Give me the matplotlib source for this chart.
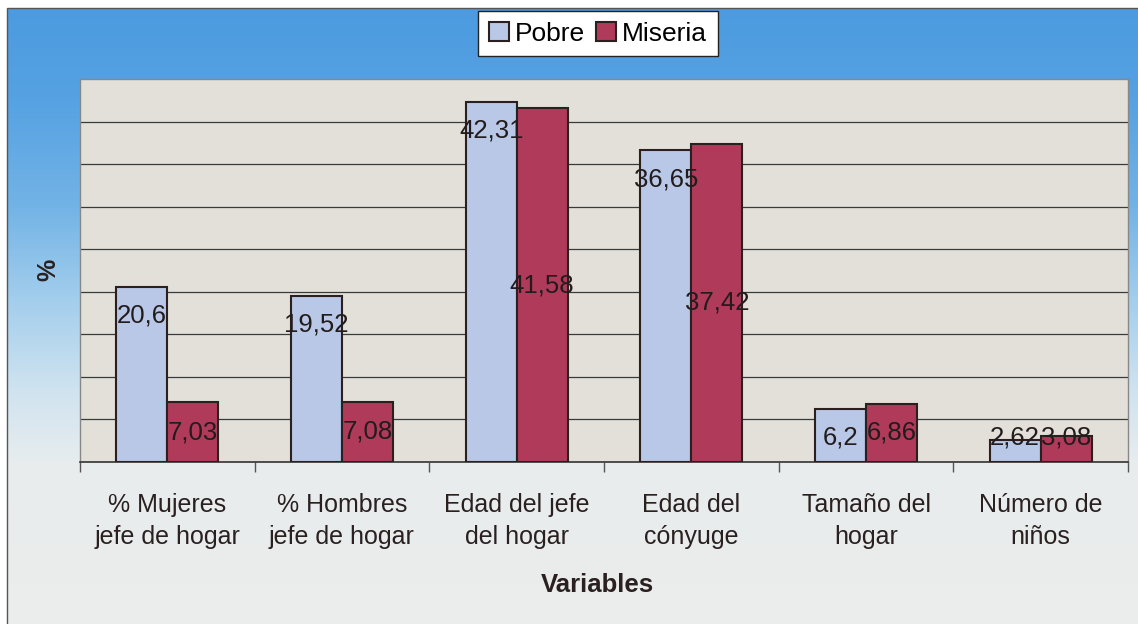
import matplotlib.pyplot as plt
import numpy as np
from matplotlib.colors import LinearSegmentedColormap
from matplotlib.patches import Patch, Rectangle

# Data
categories = [
    "% Mujeres\njefe de hogar",
    "% Hombres\njefe de hogar",
    "Edad del jefe\ndel hogar",
    "Edad del\ncónyuge",
    "Tamaño del\nhogar",
    "Número de\nniños",
]
pobre = [20.6, 19.52, 42.31, 36.65, 6.2, 2.62]
miseria = [7.03, 7.08, 41.58, 37.42, 6.86, 3.08]
series_names = ["Pobre", "Miseria"]

plt.rcParams["font.family"] = ["Liberation Sans", "DejaVu Sans"]

W, H = 1138, 624
fig = plt.figure(figsize=(W / 100, H / 100), dpi=100)
fig.patch.set_facecolor("white")

# Blue-to-white background gradient of the chart area
bg = fig.add_axes([7 / W, 0, 1 - 7 / W, 1 - 8 / H], zorder=-5)
grad_cmap = LinearSegmentedColormap.from_list(
    "bg",
    [
        (0.0, "#4c9be0"),
        (0.14, "#55a1e2"),
        (0.32, "#72b3e6"),
        (0.47, "#a2cdec"),
        (0.62, "#cfe3f0"),
        (0.74, "#e8edee"),
        (1.0, "#ececec"),
    ],
)
bg.imshow(np.linspace(0, 1, 256).reshape(-1, 1), cmap=grad_cmap, aspect="auto",
          extent=[0, 1, 0, 1])
bg.set_axis_off()
fig.patches.append(Rectangle((7 / W, -0.01), 1.0, 1 - 8 / H + 0.01,
                             transform=fig.transFigure, fill=False,
                             edgecolor="#555555", linewidth=1.0))

# Plot area
ax = fig.add_axes([80 / W, 1 - 462 / H, (1128 - 80) / W, (462 - 79) / H])
ax.set_facecolor("#e2e0d9")

x = np.arange(len(categories))
w = 0.292
edge = "#2b1f1f"
ax.bar(x - w / 2, pobre, w, color="#b9c8e6", edgecolor=edge, linewidth=1.5, zorder=3)
ax.bar(x + w / 2, miseria, w, color="#b03a5a", edgecolor=edge, linewidth=1.5, zorder=3)

ax.set_ylim(0, 45)
ax.set_xlim(-0.5, len(categories) - 0.5)
ax.set_yticks(np.arange(5, 45, 5))
ax.yaxis.grid(True, color="#3a3a3a", linewidth=0.9)
ax.set_axisbelow(True)
ax.tick_params(axis="y", length=0, labelleft=False)

ax.set_xticks(x)
ax.set_xticklabels(categories, fontsize=18, color="#2a2020", linespacing=1.45)
ax.tick_params(axis="x", which="major", length=0, pad=22)
ax.set_xticks(np.arange(-0.5, len(categories), 1), minor=True)
ax.tick_params(axis="x", which="minor", length=7, color="#555555", width=1)

for side in ["top", "right", "left"]:
    ax.spines[side].set_color("#888888")
    ax.spines[side].set_linewidth(1.0)
ax.spines["bottom"].set_color("#333333")
ax.spines["bottom"].set_linewidth(1.2)

# Data labels
def fmt(v):
    return str(v).replace(".", ",")

for xi, v in zip(x, pobre):
    ax.text(xi - w / 2, max(v - 3.4, 2.9), fmt(v), ha="center", va="center",
            fontsize=18.5, color="#221c1c", zorder=5)
for xi, v in zip(x, miseria):
    ax.text(xi + w / 2, max(v / 2, 2.9), fmt(v), ha="center", va="center",
            fontsize=18.5, color="#221c1c", zorder=5)

# Axis titles
fig.text(597 / W, 1 - 585 / H, "Variables", ha="center", va="center",
         fontsize=18.5, fontweight="bold", color="#2a2020")
fig.text(48 / W, 1 - 270 / H, "%", ha="center", va="center", rotation=90,
         fontsize=18, fontweight="bold", color="#2a2020")

# Legend
handles = [
    Patch(facecolor="#b9c8e6", edgecolor=edge, linewidth=1.5),
    Patch(facecolor="#b03a5a", edgecolor=edge, linewidth=1.5),
]
leg = fig.legend(handles, series_names, loc="upper center",
                 bbox_to_anchor=(598 / W, 1 - 11 / H), ncol=2, fontsize=19,
                 frameon=True, fancybox=False, edgecolor="#222222", framealpha=1,
                 handlelength=0.75, handleheight=0.75, handletextpad=0.25,
                 columnspacing=0.4, borderpad=0.4, borderaxespad=0)
leg.get_frame().set_facecolor("white")
leg.get_frame().set_linewidth(1.0)

fig.savefig("out.png", dpi=100)
